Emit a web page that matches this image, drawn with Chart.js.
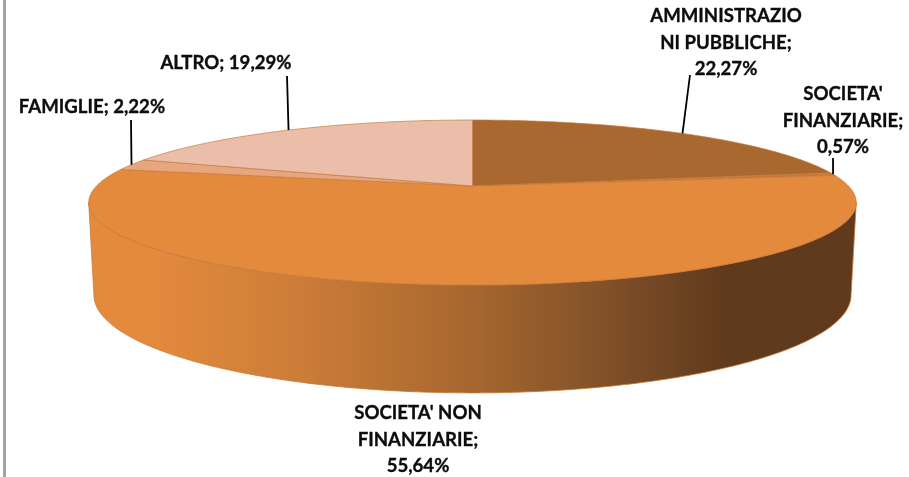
<!DOCTYPE html>
<html><head><meta charset="utf-8">
<style>
html,body{margin:0;padding:0;background:#fff;width:909px;height:477px;overflow:hidden}
#wrap{position:relative;width:909px;height:477px}
#edge{position:absolute;left:3px;top:0;width:3px;height:477px;background:#a3a3a3}
canvas{position:absolute;left:0;top:0}
</style>
<script src="https://cdn.jsdelivr.net/npm/chart.js@4"></script>
</head><body>
<div id="wrap"><div id="edge"></div><canvas id="c" width="909" height="477"></canvas></div>
<script>
const categories = ["AMMINISTRAZIONI PUBBLICHE","SOCIETA' FINANZIARIE","SOCIETA' NON FINANZIARIE","FAMIGLIE","ALTRO"];
const shares = [22.27,0.57,55.64,2.22,19.29];
const sliceColors = ["#A9682F","#C87A35","#E48A3D","#E8A67F","#EBBEAA"];
const labelLines = [
  ["AMMINISTRAZIO","NI PUBBLICHE;","22,27%"],
  ["SOCIETA'","FINANZIARIE;","0,57%"],
  ["SOCIETA' NON","FINANZIARIE;","55,64%"],
  ["FAMIGLIE; 2,22%"],
  ["ALTRO; 19,29%"]
];
// label layout: text centre x, first line centre y, leader end (null = no leader)
const labelLayout = [
  {x:726,y:16,lead:[690,75]},
  {x:843,y:94,lead:[833,158]},
  {x:418,y:413,lead:null},
  {x:92,y:107,lead:[131,120]},
  {x:226,y:63,lead:[287,76]}
];
const topFace = {cx:472.5,cy:186,A:376,B:79.2,p:0.2};
const baseFace = {cx:472.5,cy:275.4,A:370.9,B:94,p:0.2};

function project(f,angle){           // angle in Chart.js radians (0 = 3 o'clock)
  const u=Math.cos(angle), v=Math.sin(angle), w=1/(1-f.p*v);
  return [f.cx+f.A*u*w, f.cy+f.B*v*w];
}
function rim(ctx,f,a0,a1){
  const n=Math.max(2,Math.ceil(Math.abs(a1-a0)/0.01));
  for(let i=0;i<=n;i++){
    const p=project(f,a0+(a1-a0)*i/n);
    ctx.lineTo(p[0],p[1]);
  }
}
const pie3d={
  id:'pie3d',
  beforeDatasetsDraw(chart){
    const ctx=chart.ctx, arcs=chart.getDatasetMeta(0).data;
    const edge=Math.asin(topFace.p);
    const wallA=edge, wallB=Math.PI-edge;
    ctx.save();
    const grad=ctx.createLinearGradient(150,0,725,0);
    grad.addColorStop(0,"#E48A3D");
    grad.addColorStop(0.26,"#CC7D38");
    grad.addColorStop(0.54,"#A9682F");
    grad.addColorStop(0.77,"#85532A");
    grad.addColorStop(1,"#5F3A1C");
    arcs.forEach(arc=>{
      const a=Math.max(arc.startAngle,wallA), b=Math.min(arc.endAngle,wallB);
      if(b<=a) return;
      ctx.beginPath();
      rim(ctx,topFace,a,b);
      rim(ctx,baseFace,b,a);
      ctx.closePath();
      ctx.fillStyle=grad;
      ctx.fill();
      ctx.strokeStyle="#C67A35";
      ctx.lineWidth=0.8;
      ctx.stroke();
    });
    arcs.forEach(arc=>{
      ctx.beginPath();
      ctx.moveTo(topFace.cx,topFace.cy);
      rim(ctx,topFace,arc.startAngle,arc.endAngle);
      ctx.closePath();
      ctx.fillStyle=arc.options.backgroundColor;
      ctx.fill();
      ctx.strokeStyle="rgba(196,120,58,0.85)";
      ctx.lineWidth=0.8;
      ctx.stroke();
    });
    ctx.restore();
    return false;
  },
  afterDraw(chart){
    const ctx=chart.ctx, arcs=chart.getDatasetMeta(0).data;
    ctx.save();
    ctx.lineJoin="round";
    ctx.fillStyle="#0d0d0d";
    ctx.font="bold 18.6px Lato";
    ctx.textAlign="center";
    ctx.textBaseline="middle";
    arcs.forEach((arc,i)=>{
      const l=labelLayout[i];
      if(l.lead){
        const s=project(topFace,(arc.startAngle+arc.endAngle)/2);
        ctx.beginPath();
        ctx.moveTo(s[0],s[1]);
        ctx.lineTo(l.lead[0],l.lead[1]);
        ctx.strokeStyle="#000";
        ctx.lineWidth=1.8;
        ctx.stroke();
      }
      labelLines[i].forEach((t,k)=>{
        ctx.fillText(t,l.x,l.y+k*26.5);
        ctx.strokeStyle="#0d0d0d";
        ctx.lineWidth=0.35;
        ctx.strokeText(t,l.x,l.y+k*26.5);
      });
    });
    ctx.restore();
  }
};
new Chart(document.getElementById('c'),{
  type:'pie',
  data:{labels:categories,datasets:[{data:shares,backgroundColor:sliceColors,borderWidth:0}]},
  options:{responsive:false,animation:false,devicePixelRatio:1,
    plugins:{legend:{display:false},tooltip:{enabled:false}}},
  plugins:[pie3d]
});
</script>
</body></html>
